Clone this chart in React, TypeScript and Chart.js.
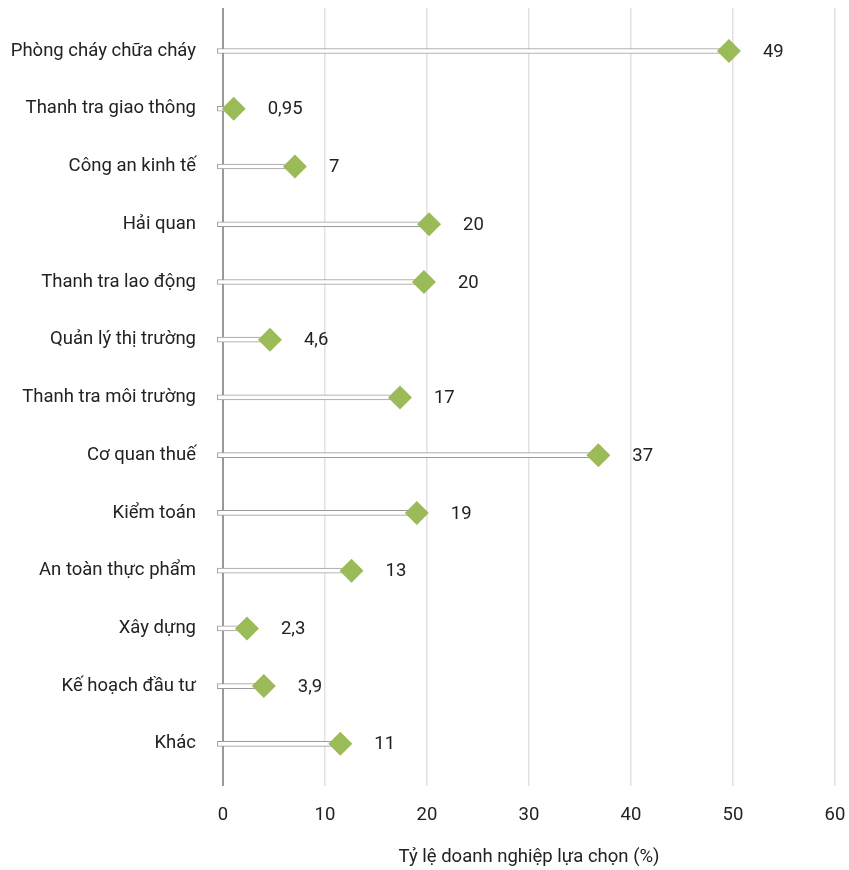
import React, { useEffect, useRef } from "react";
import { Chart, registerables } from "chart.js";

Chart.register(...registerables);

const categories = [
  "Phòng cháy chữa cháy",
  "Thanh tra giao thông",
  "Công an kinh tế",
  "Hải quan",
  "Thanh tra lao động",
  "Quản lý thị trường",
  "Thanh tra môi trường",
  "Cơ quan thuế",
  "Kiểm toán",
  "An toàn thực phẩm",
  "Xây dựng",
  "Kế hoạch đầu tư",
  "Khác",
];
const values = [49.6, 1.05, 7.05, 20.2, 19.7, 4.6, 17.35, 36.8, 19.0, 12.6, 2.35, 4.0, 11.5];
const valueLabels = ["49", "0,95", "7", "20", "20", "4,6", "17", "37", "19", "13", "2,3", "3,9", "11"];
const xMin = 0;
const xMax = 60;
const xStep = 10;
const barStart = -0.55;
const xTitle = "Tỷ lệ doanh nghiệp lựa chọn (%)";

const FONT = "Roboto";
const FS = 18.5;
const TEXT = "#222222";

export default function App() {
  const ref = useRef<HTMLCanvasElement | null>(null);

  useEffect(() => {
    const canvas = ref.current;
    if (!canvas) return;

    const labelPlugin = {
      id: "valueLabels",
      afterDatasetsDraw(chart: any) {
        const meta = chart.getDatasetMeta(1);
        const ctx = chart.ctx;
        ctx.save();
        ctx.font = `${FS}px ${FONT}`;
        ctx.fillStyle = TEXT;
        ctx.textAlign = "left";
        ctx.textBaseline = "middle";
        meta.data.forEach((pt: any, i: number) => {
          ctx.fillText(valueLabels[i], pt.x + 34, pt.y + 1);
        });
        ctx.restore();
      },
    };

    const chart = new Chart(canvas, {
      type: "bar",
      data: {
        datasets: [
          {
            type: "bar",
            data: values.map((v, i) => ({ x: [barStart, v], y: i })) as any,
            backgroundColor: "#ffffff",
            borderColor: "#9a9a9a",
            borderWidth: 1,
            borderSkipped: false,
            barThickness: 5,
            clip: false as any,
            order: 2,
          },
          {
            type: "scatter",
            data: values.map((v, i) => ({ x: v, y: i })),
            pointStyle: "rectRot",
            pointRadius: 12,
            pointHoverRadius: 12,
            backgroundColor: "#9bbb59",
            borderWidth: 0,
            clip: false as any,
            order: 1,
          } as any,
        ],
      },
      options: {
        indexAxis: "y",
        animation: false,
        responsive: false,
        layout: { autoPadding: false, padding: { top: 8, right: 14, left: 0, bottom: 0 } },
        plugins: {
          legend: { display: false },
          tooltip: { enabled: false },
        },
        scales: {
          x: {
            type: "linear",
            min: xMin,
            max: xMax,
            offset: false,
            ticks: {
              stepSize: xStep,
              padding: 18,
              color: TEXT,
              font: { family: FONT, size: FS },
            },
            grid: {
              drawTicks: false,
              color: (c: any) => (c.tick && c.tick.value === 0 ? "#999999" : "#e2e2e2"),
              lineWidth: (c: any) => (c.tick && c.tick.value === 0 ? 2 : 1.5),
            },
            border: { display: false },
            title: {
              display: true,
              text: xTitle,
              color: TEXT,
              font: { family: FONT, size: FS },
              padding: { top: 4, bottom: 2 },
            },
            afterFit: (s: any) => {
              s.height = 84;
              s.paddingLeft = 0;
              s.paddingRight = 0;
            },
          },
          y: {
            type: "linear",
            reverse: true,
            offset: false,
            min: -0.745,
            max: 12.73,
            afterBuildTicks: (s: any) => {
              s.ticks = categories.map((_, i) => ({ value: i }));
            },
            ticks: {
              autoSkip: false,
              padding: 27,
              color: TEXT,
              font: { family: FONT, size: FS },
              callback: (v: any) => categories[v as number] ?? "",
            },
            grid: { display: false, drawTicks: false },
            border: { display: false },
            afterFit: (s: any) => {
              s.width = 223;
              s.paddingTop = 0;
              s.paddingBottom = 0;
            },
          },
        },
      } as any,
      plugins: [labelPlugin],
    });

    return () => chart.destroy();
  }, []);

  return (
    <div style={{ position: "absolute", left: 0, top: 0, width: 849, height: 870, background: "#fff" }}>
      <canvas ref={ref} width={849} height={870} style={{ display: "block" }} />
    </div>
  );
}
